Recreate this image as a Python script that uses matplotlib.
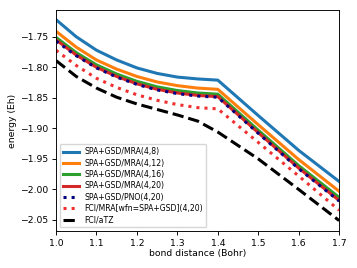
import numpy as np
import matplotlib
matplotlib.use('Agg')
import matplotlib.pyplot as plt

# bond distances (Bohr)
distances = [1.0, 1.05, 1.1, 1.15, 1.2, 1.25, 1.3, 1.35, 1.4, 1.5, 1.6, 1.7]

# energies (Eh)
mra_4_8 = [-1.722, -1.750, -1.772, -1.788, -1.801, -1.810, -1.816, -1.819, -1.821, -1.879, -1.936, -1.987]
mra_4_12 = [-1.741, -1.767, -1.788, -1.803, -1.815, -1.824, -1.830, -1.834, -1.836, -1.894, -1.951, -2.003]
mra_4_16 = [-1.751, -1.776, -1.796, -1.811, -1.823, -1.832, -1.838, -1.842, -1.844, -1.903, -1.961, -2.013]
mra_4_20 = [-1.755, -1.780, -1.800, -1.815, -1.827, -1.836, -1.842, -1.846, -1.848, -1.907, -1.965, -2.018]
pno_4_20 = [-1.757, -1.781, -1.801, -1.816, -1.828, -1.837, -1.843, -1.847, -1.849, -1.908, -1.966, -2.019]
fci_mra = [-1.772, -1.797, -1.818, -1.833, -1.845, -1.854, -1.861, -1.866, -1.868, -1.923, -1.978, -2.034]
fci_atz = [-1.789, -1.815, -1.834, -1.849, -1.860, -1.869, -1.878, -1.888, -1.906, -1.950, -2.000, -2.051]

# everything looks like a default figure shrunk down
s = 0.83
plt.rcParams['font.size'] = 6.7
plt.rcParams['axes.linewidth'] = 0.8 * s
for a in ('xtick', 'ytick'):
    plt.rcParams[a + '.major.size'] = 3.5 * s
    plt.rcParams[a + '.major.width'] = 0.8 * s
    plt.rcParams[a + '.major.pad'] = 3.5 * s

fig = plt.figure(figsize=(3.57, 2.68), dpi=100)
ax = fig.add_axes([0.157, 0.137, 0.793, 0.826])

lw = 2.2
ax.plot(distances, mra_4_8, color='tab:blue', lw=lw, label='SPA+GSD/MRA(4,8)')
ax.plot(distances, mra_4_12, color='tab:orange', lw=lw, label='SPA+GSD/MRA(4,12)')
ax.plot(distances, mra_4_16, color='tab:green', lw=lw, label='SPA+GSD/MRA(4,16)')
ax.plot(distances, mra_4_20, color='tab:red', lw=lw, label='SPA+GSD/MRA(4,20)')
ax.plot(distances, pno_4_20, color='navy', lw=lw, ls=':', label='SPA+GSD/PNO(4,20)')
ax.plot(distances, fci_mra, color='#f03030', lw=lw, ls=':', label='FCI/MRA[wfn=SPA+GSD](4,20)')
ax.plot(distances, fci_atz, color='black', lw=lw, ls='--', label='FCI/aTZ')

ax.set_xlim(1.0, 1.7)
ax.set_ylim(-2.0685, -1.706)
ax.set_yticks([-1.75, -1.80, -1.85, -1.90, -1.95, -2.00, -2.05])
ax.set_xlabel('bond distance (Bohr)')
ax.set_ylabel('energy (Eh)')
ax.xaxis.set_label_coords(0.5, -0.080)
ax.yaxis.set_label_coords(-0.138, 0.5)
ax.legend(loc='lower left', fontsize='small', labelspacing=0.3)

plt.savefig('out.png')
